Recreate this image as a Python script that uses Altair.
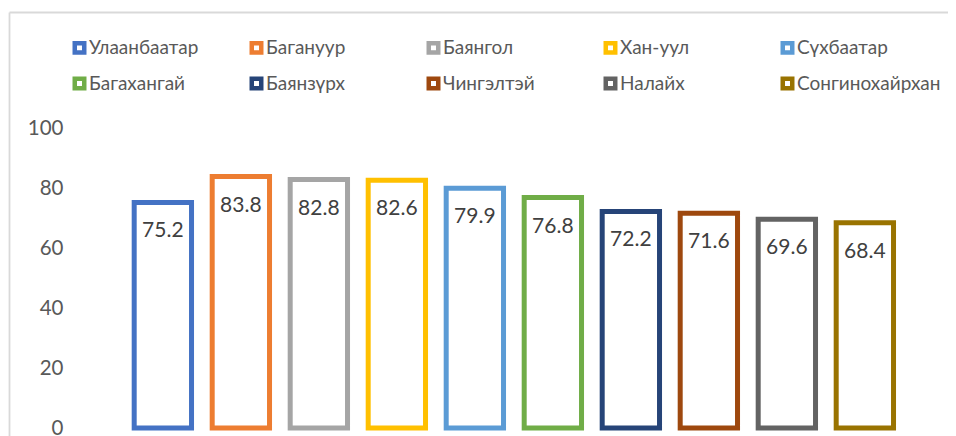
import altair as alt
import pandas as pd

districts = ["Улаанбаатар", "Багануур", "Баянгол", "Хан-уул", "Сүхбаатар",
             "Багахангай", "Баянзүрх", "Чингэлтэй", "Налайх", "Сонгинохайрхан"]
values = [75.2, 83.8, 82.8, 82.6, 79.9, 76.8, 72.2, 71.6, 69.6, 68.4]
colors = ["#4472C4", "#ED7D31", "#A5A5A5", "#FFC000", "#5B9BD5",
          "#70AD47", "#264478", "#9E480E", "#636363", "#997300"]
y_ticks = [0, 20, 40, 60, 80, 100]

df = pd.DataFrame({"district": districts, "value": values})

FONT = "Lato"

x_enc = alt.X("district:N", sort=districts, axis=None,
              scale=alt.Scale(paddingInner=0.265, paddingOuter=0.6453, align=0.588))
y_enc = alt.Y("value:Q",
              scale=alt.Scale(domain=[0, 100], nice=False),
              axis=alt.Axis(values=y_ticks, title=None, domain=False, ticks=False,
                            grid=False, labelPadding=12, labelFontSize=20.5,
                            labelFont=FONT, labelColor="#595959"))

bars = alt.Chart(df).mark_bar(fill="white", strokeWidth=5, strokeJoin="miter").encode(
    x=x_enc,
    y=y_enc,
    stroke=alt.Stroke("district:N",
                      scale=alt.Scale(domain=districts, range=colors),
                      legend=alt.Legend(
                          title=None, orient="none", legendX=-5, legendY=-90,
                          direction="horizontal", columns=5, gridAlign="all",
                          columnPadding=9, rowPadding=7, padding=0,
                          symbolType="square", symbolSize=90, symbolStrokeWidth=4.5,
                          symbolFillColor="white", labelFont=FONT, labelFontSize=19,
                          labelColor="#595959", labelOffset=0, labelLimit=400)),
)

labels = alt.Chart(df).mark_text(baseline="alphabetic", dy=35, font=FONT, fontSize=21,
                                 color="#404040").encode(
    x=alt.X("district:N", sort=districts, axis=None),
    y=alt.Y("value:Q"),
    text=alt.Text("value:Q", format=".1f"),
)

border_df = pd.DataFrame({"k": [0]})
border_left = alt.Chart(border_df).mark_rule(color="#D9D9D9", strokeWidth=1.8).encode(
    x=alt.value(-65.5), y=alt.value(-115.5), y2=alt.value(320))
border_top = alt.Chart(border_df).mark_rule(color="#D9D9D9", strokeWidth=1.8).encode(
    x=alt.value(-65.5), x2=alt.value(900), y=alt.value(-115.5))

chart = alt.layer(bars, labels, border_left, border_top).properties(
    width=860, height=300,
    autosize=alt.AutoSizeParams(type="none"),
    padding={"left": 67, "top": 120, "right": 13, "bottom": 8},
).configure_view(stroke=None).configure_legend(symbolStrokeWidth=4.5)

chart.save("out.html", embed_options={"renderer": "svg", "actions": False})
